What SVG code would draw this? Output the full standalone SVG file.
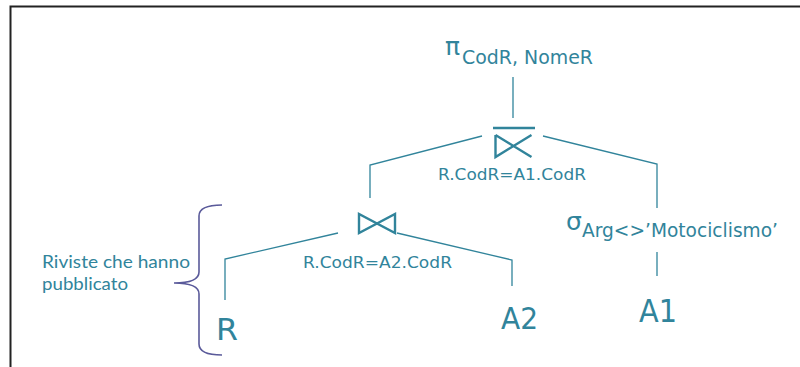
<svg xmlns="http://www.w3.org/2000/svg" width="800" height="367" viewBox="0 0 800 367">
<style>
.t{font-family:"DejaVu Sans","Liberation Sans",sans-serif;fill:#31849b}
.c{font-family:"Lato","Liberation Sans",sans-serif;fill:#31849b}
.ln{stroke:#31849b;stroke-width:1.3;fill:none}
.sym{stroke:#31849b;stroke-width:2.4;fill:none;stroke-linejoin:miter}
</style>
<rect width="800" height="367" fill="#fff"/>
<path d="M10.5,367 V6.5 H800" fill="none" stroke="#222" stroke-width="2"/>
<g id="connectors">
<path class="ln" d="M513,77 V118"/>
<path class="ln" d="M482,136 L370,165 V198"/>
<path class="ln" d="M543,136 L657,164 V208"/>
<path class="ln" d="M657,252 V276"/>
<path class="ln" d="M338,233 L225,259 V300"/>
<path class="ln" d="M397,233 L512,260 V286"/>
</g>
<g id="projection">
<text class="t" x="445" y="55" font-size="25">π</text>
<text class="t" x="462" y="64" font-size="19" textLength="131" lengthAdjust="spacingAndGlyphs">CodR, NomeR</text>
</g>
<g id="join1">
<path class="sym" d="M493,128 H535"/>
<path class="sym" d="M495.5,135 V157 L531.5,135 M495.5,135 L531.5,157"/>
<text class="t" x="438" y="180" font-size="15" textLength="148" lengthAdjust="spacingAndGlyphs">R.CodR=A1.CodR</text>
</g>
<g id="join2">
<path class="sym" d="M359,214 V233 L395,214 V233 Z"/>
<text class="t" x="303" y="268" font-size="15" textLength="149" lengthAdjust="spacingAndGlyphs">R.CodR=A2.CodR</text>
</g>
<g id="selection">
<text class="t" x="566" y="230" font-size="25">σ</text>
<text class="t" x="582" y="237" font-size="19.5" textLength="196" lengthAdjust="spacingAndGlyphs">Arg&lt;&gt;’Motociclismo’</text>
</g>
<g id="R">
<text class="t" x="216" y="340" font-size="30" textLength="22" lengthAdjust="spacingAndGlyphs">R</text>
</g>
<g id="A2">
<text class="t" x="501" y="329" font-size="31" textLength="37" lengthAdjust="spacingAndGlyphs">A2</text>
</g>
<g id="A1">
<text class="t" x="639" y="322" font-size="32" textLength="38" lengthAdjust="spacingAndGlyphs">A1</text>
</g>
<g id="brace">
<path d="M222,205 Q199,205 199,216 L199,272 Q199,283 174,283 Q199,283 199,294 L199,344 Q199,355 222,355" fill="none" stroke="#5a5a9a" stroke-width="1.6"/>
<text class="c" x="42" y="268" font-size="18" textLength="148" lengthAdjust="spacingAndGlyphs">Riviste che hanno</text>
<text class="c" x="42" y="290" font-size="18" textLength="86" lengthAdjust="spacingAndGlyphs">pubblicato</text>
</g>
</svg>
